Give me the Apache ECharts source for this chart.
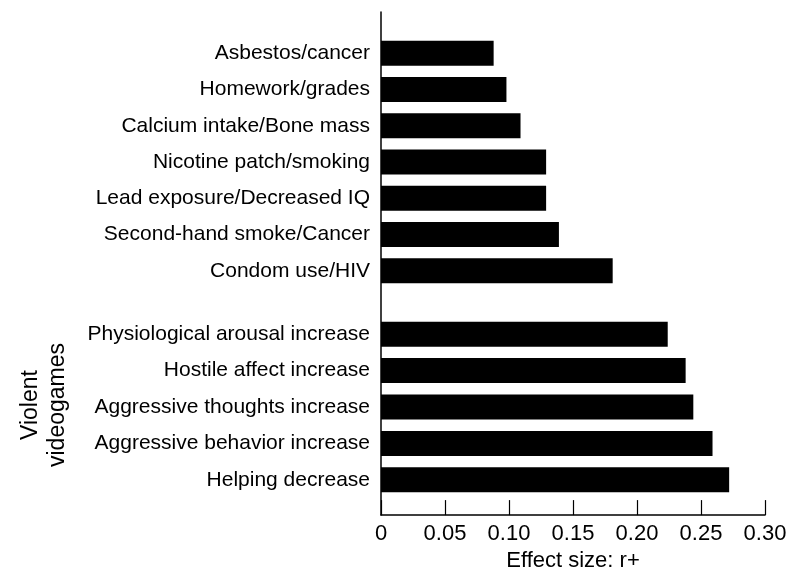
<!DOCTYPE html>
<html>
<head>
<meta charset="utf-8">
<script src="https://cdn.jsdelivr.net/npm/echarts@6/dist/echarts.min.js"></script>
<style>
html,body{margin:0;padding:0;background:#fff;}
#chart{width:805px;height:577px;}
</style>
</head>
<body>
<div id="chart"></div>
<script>
const healthCategories = ["Asbestos/cancer","Homework/grades","Calcium intake/Bone mass","Nicotine patch/smoking","Lead exposure/Decreased IQ","Second-hand smoke/Cancer","Condom use/HIV"];
const healthValues = [0.088,0.098,0.109,0.129,0.129,0.139,0.181];
const gameCategories = ["Physiological arousal increase","Hostile affect increase","Aggressive thoughts increase","Aggressive behavior increase","Helping decrease"];
const gameValues = [0.224,0.238,0.244,0.259,0.272];
const groupLabel = "Violent\nvideogames";
const axisTitle = "Effect size: r+";
const xMin = 0, xMax = 0.30, xStep = 0.05;

const FONT = '"Liberation Sans", Arial, Helvetica, sans-serif';
const chart = echarts.init(document.getElementById('chart'));
const hiddenX = (gi) => ({gridIndex: gi, type: 'value', min: xMin, max: xMax, show: false});
const catY = (gi, cats) => ({
  gridIndex: gi, type: 'category', data: cats, inverse: true,
  axisLine: {show: false}, axisTick: {show: false}, splitLine: {show: false},
  axisLabel: {margin: 11, fontSize: 21, color: '#000', fontFamily: FONT}
});
chart.setOption({
  animation: false,
  backgroundColor: '#fff',
  grid: [
    {left: 381, right: 40, top: 12, bottom: 60},
    {left: 381, right: 40, top: 35, height: 254},
    {left: 381, right: 40, top: 316, height: 182}
  ],
  xAxis: [
    {gridIndex: 0, type: 'value', min: xMin, max: xMax, interval: xStep,
     name: axisTitle, nameLocation: 'middle', nameGap: 34,
     nameTextStyle: {fontSize: 22, color: '#000', fontFamily: FONT},
     axisLine: {show: true, lineStyle: {color: '#000', width: 1.5}},
     axisTick: {show: true, inside: true, length: 15, lineStyle: {color: '#000', width: 1.2}},
     splitLine: {show: false},
     axisLabel: {fontSize: 22, color: '#000', fontFamily: FONT, margin: 8,
       formatter: v => v === 0 ? '0' : v.toFixed(2)}},
    hiddenX(1), hiddenX(2)
  ],
  yAxis: [
    {gridIndex: 0, type: 'value', min: 0, max: 1,
     axisLine: {show: true, lineStyle: {color: '#000', width: 1.5}},
     axisTick: {show: false}, axisLabel: {show: false}, splitLine: {show: false}},
    catY(1, healthCategories),
    catY(2, gameCategories)
  ],
  series: [
    {type: 'bar', xAxisIndex: 1, yAxisIndex: 1, data: healthValues, barWidth: 25,
     itemStyle: {color: '#000'}},
    {type: 'bar', xAxisIndex: 2, yAxisIndex: 2, data: gameValues, barWidth: 25,
     itemStyle: {color: '#000'}}
  ],
  graphic: [
    {type: 'text', x: 44, y: 405, rotation: Math.PI / 2,
     style: {text: groupLabel, fontSize: 23, lineHeight: 27, fill: '#000',
       fontFamily: FONT, align: 'center', verticalAlign: 'middle'}}
  ]
});
</script>
</body>
</html>
